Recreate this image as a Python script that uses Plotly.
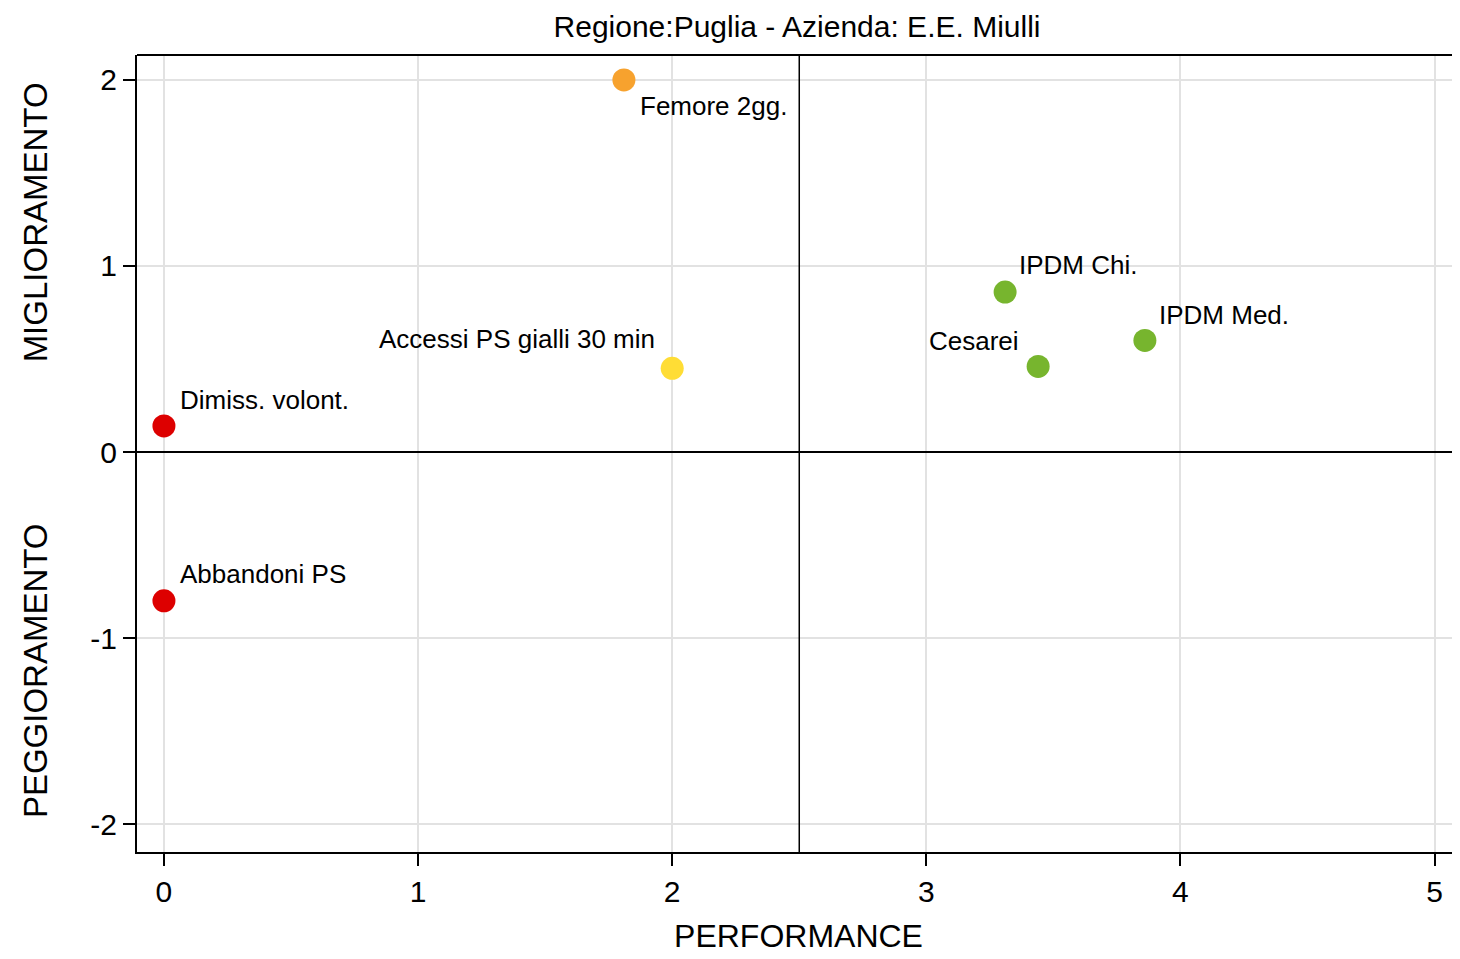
import plotly.graph_objects as go

# Data
labels = ["Femore 2gg.", "Accessi PS gialli 30 min", "Dimiss. volont.", "Abbandoni PS",
          "IPDM Chi.", "IPDM Med.", "Cesarei"]
performance = [1.81, 2.00, 0.0, 0.0, 3.31, 3.86, 3.44]
miglioramento = [2.0, 0.45, 0.14, -0.80, 0.86, 0.60, 0.46]
colors = ["#F7A22E", "#FFDD35", "#DD0000", "#DD0000", "#77B52E", "#77B52E", "#77B52E"]
# label placement: (xanchor, xshift, yshift)
label_pos = [("left", 14, -26), ("right", -15, 29), ("left", 14, 26), ("left", 14, 27),
             ("left", 12, 27), ("left", 12, 25), ("right", -17, 25)]
x_ticks = [0, 1, 2, 3, 4, 5]
y_ticks = [-2, -1, 0, 1, 2]
y_tick_text = ["-2", "-1", "0", "1", "2"]
x_ref_line = 2.5

FONT = "Liberation Sans"

fig = go.Figure()
fig.add_trace(go.Scatter(
    x=performance, y=miglioramento, mode="markers",
    marker=dict(size=23, color=colors, line=dict(width=0)),
    hoverinfo="text", text=labels, showlegend=False,
))

for lab, xv, yv, (anc, xs, ys) in zip(labels, performance, miglioramento, label_pos):
    fig.add_annotation(x=xv, y=yv, text=lab, showarrow=False, xanchor=anc, yanchor="middle",
                       xshift=xs, yshift=ys, font=dict(family=FONT, size=26, color="black"))

fig.add_shape(type="line", x0=x_ref_line, x1=x_ref_line, y0=0, y1=1, xref="x", yref="paper",
              line=dict(color="black", width=1.5))
# top frame line
fig.add_shape(type="line", x0=0, x1=1, y0=1, y1=1, xref="paper", yref="paper",
              line=dict(color="black", width=2))

fig.add_annotation(text="MIGLIORAMENTO", xref="paper", yref="paper", x=0, y=0.79,
                   xshift=-102, textangle=-90, showarrow=False, xanchor="center", yanchor="middle",
                   font=dict(family=FONT, size=33, color="black"))
fig.add_annotation(text="PEGGIORAMENTO", xref="paper", yref="paper", x=0, y=0.227,
                   xshift=-102, textangle=-90, showarrow=False, xanchor="center", yanchor="middle",
                   font=dict(family=FONT, size=33, color="black"))

fig.update_layout(
    width=1452, height=951,
    margin=dict(l=129, r=0, t=47, b=107),
    paper_bgcolor="white", plot_bgcolor="white",
    title=dict(text="Regione:Puglia - Azienda: E.E. Miulli", x=0.5434, xanchor="center",
               y=0.981, yanchor="middle", font=dict(family=FONT, size=30, color="black")),
    xaxis=dict(range=[-0.106, 5.10], tickvals=x_ticks, ticks="outside", ticklen=12,
               tickcolor="black", tickwidth=1.5, showline=True, linecolor="black", linewidth=2,
               mirror=False, showgrid=True, gridcolor="#e2e2e2", gridwidth=1.5, zeroline=False,
               tickfont=dict(family=FONT, size=30, color="black"),
               title=dict(text="PERFORMANCE", font=dict(family=FONT, size=32, color="black"),
                          standoff=18)),
    yaxis=dict(range=[-2.15, 2.134], tickvals=y_ticks, ticktext=y_tick_text, ticks="outside",
               ticklen=12, tickcolor="black", tickwidth=1.5, showline=True, linecolor="black",
               linewidth=2, mirror=False, showgrid=True, gridcolor="#e2e2e2", gridwidth=1.5,
               zeroline=True, zerolinecolor="black", zerolinewidth=1.5,
               tickfont=dict(family=FONT, size=30, color="black")),
)

fig.write_html("out.html")
